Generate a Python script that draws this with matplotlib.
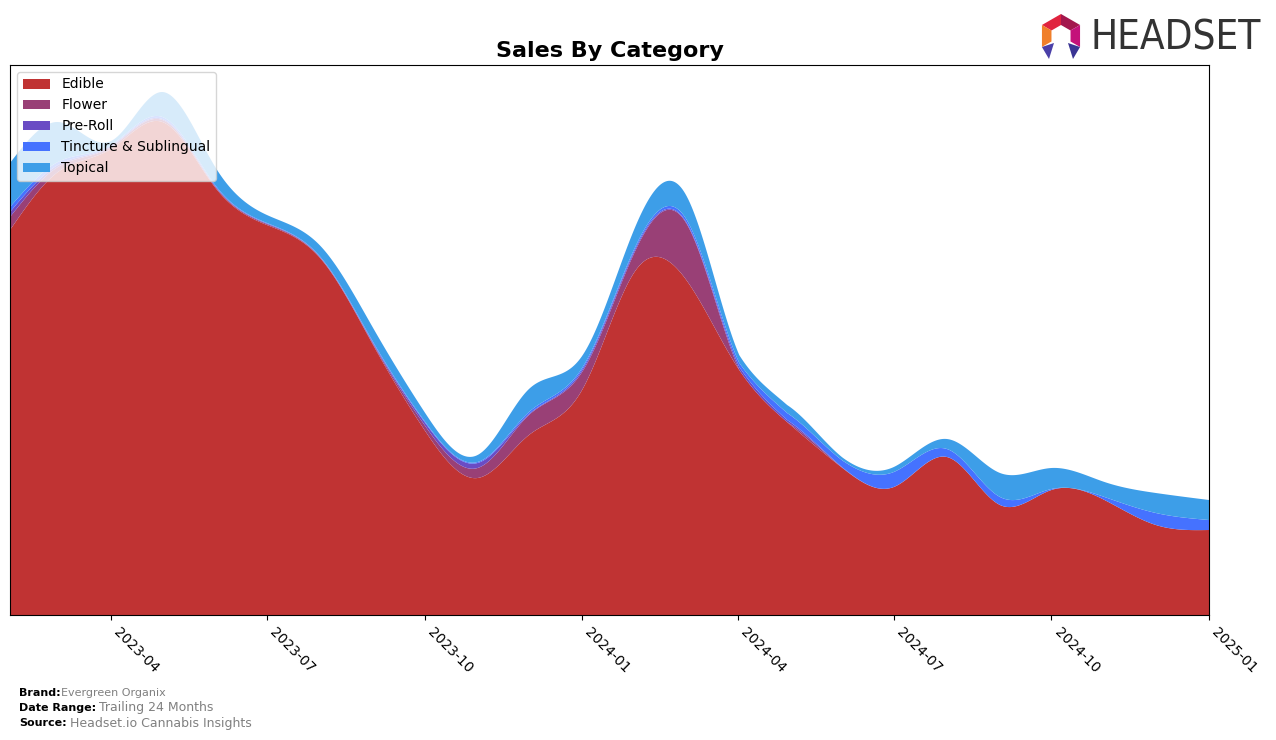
import numpy as np
import pandas as pd
import matplotlib
matplotlib.use('Agg')
import matplotlib.pyplot as plt
import matplotlib.dates as mdates
from matplotlib.patches import Polygon

# miesiace (pierwszy dzien miesiaca)
months = pd.date_range('2023-02-01', '2025-01-01', freq='MS')

categories = ['Edible', 'Flower', 'Pre-Roll', 'Tincture & Sublingual', 'Topical']
colors = ['#c03333', '#994076', '#6a4cc4', '#4572ff', '#3d9ee8']

edible = [385, 443, 466, 493, 427, 390, 357, 270, 185, 137, 180, 225,
          344, 337, 247, 191, 147, 128, 158, 110, 125, 115, 90, 85]
flower = [13, 5, 2, 2, 1, 1, 0.5, 1, 5, 10, 20, 18,
          20, 57, 1, 0.5, 0, 0, 0, 0, 0, 0, 0, 0]
preroll = [5, 2, 1, 1, 0.5, 0.5, 0.5, 1, 3, 5, 1, 2,
           2, 1, 3, 2, 0.5, 0, 0, 0, 0, 0, 0, 0]
tincture = [5, 3, 1, 2, 1, 0.5, 0.5, 1, 1, 1, 2, 2,
            2, 3, 4, 7, 7, 15, 8, 8, 1, 3, 12, 10]
topical = [44, 40, 4, 25, 18, 8, 11, 14, 9, 7, 23, 12,
           20, 24, 8, 8, 3, 5, 10, 24, 21, 15, 20, 20]

series = [edible, flower, preroll, tincture, topical]


def natural_spline(x, y, xs):
    # naturalny spline kubiczny (tylko do wygladzenia rysunku)
    x = np.asarray(x, float)
    y = np.asarray(y, float)
    n = len(x)
    h = np.diff(x)
    A = np.zeros((n, n))
    b = np.zeros(n)
    A[0, 0] = 1
    A[-1, -1] = 1
    for i in range(1, n - 1):
        A[i, i - 1] = h[i - 1]
        A[i, i] = 2 * (h[i - 1] + h[i])
        A[i, i + 1] = h[i]
        b[i] = 3 * ((y[i + 1] - y[i]) / h[i] - (y[i] - y[i - 1]) / h[i - 1])
    c = np.linalg.solve(A, b)
    bb = (y[1:] - y[:-1]) / h - h * (2 * c[:-1] + c[1:]) / 3
    d = (c[1:] - c[:-1]) / (3 * h)
    idx = np.clip(np.searchsorted(x, xs) - 1, 0, n - 2)
    dx = xs - x[idx]
    return y[idx] + bb[idx] * dx + c[idx] * dx ** 2 + d[idx] * dx ** 3


xnum = mdates.date2num(months)
xs = np.linspace(xnum[0], xnum[-1], 800)
smooth = [np.clip(natural_spline(xnum, s, xs), 0, None) for s in series]

fig = plt.figure(figsize=(12.76, 7.4), dpi=100)
ax = fig.add_axes([10 / 1276, 1 - 615 / 740, 1199 / 1276, 550 / 740])

ax.stackplot(mdates.num2date(xs), *smooth, labels=categories, colors=colors, linewidth=0)

ax.set_xlim(xnum[0], xnum[-1])
ax.set_ylim(0, 550)
ax.set_yticks([])
ax.xaxis.set_major_locator(mdates.MonthLocator(bymonth=[1, 4, 7, 10]))
ax.xaxis.set_major_formatter(mdates.DateFormatter('%Y-%m'))
plt.setp(ax.get_xticklabels(), rotation=-45, ha='left', fontsize=10)

ax.set_title('Sales By Category', fontsize=16, fontweight='bold', pad=6)
ax.legend(loc='upper left', fontsize=10)

# stopka
fig.text(19 / 1276, 1 - 693 / 740, 'Brand:', fontsize=8, fontweight='bold', va='center')
fig.text(61 / 1276, 1 - 693 / 740, 'Evergreen Organix', fontsize=8, color='gray', va='center')
fig.text(19 / 1276, 1 - 708 / 740, 'Date Range:', fontsize=8, fontweight='bold', va='center')
fig.text(99 / 1276, 1 - 708 / 740, 'Trailing 24 Months', fontsize=9, color='gray', va='center')
fig.text(19 / 1276, 1 - 723 / 740, 'Source:', fontsize=8, fontweight='bold', va='center')
fig.text(70 / 1276, 1 - 723 / 740, 'Headset.io Cannabis Insights', fontsize=9, color='gray', va='center')

# logo HEADSET
fig.text(1261 / 1276, 1 - 38 / 740, 'HEADSET', fontsize=29, color='#333333', va='center', ha='right',
         family='DejaVu Sans', fontstretch='condensed')


def px(pts):
    return [(x / 1276, 1 - y / 740) for x, y in pts]


cx, cy = 1061, 36
ro, ri = 22, 11
ang = np.radians([90, 30, -30, -90, -150, 150])
outer = [(cx + ro * np.cos(a), cy - ro * np.sin(a)) for a in ang]
inner = [(cx + ri * np.cos(a), cy - ri * np.sin(a)) for a in ang]
segs = [(5, 0, '#e0233f'), (0, 1, '#a3174d'), (1, 2, '#c4127a'), (4, 5, '#f07f2a')]
for i, j, col in segs:
    fig.patches.append(Polygon(px([outer[i], outer[j], inner[j], inner[i]]), closed=True,
                               facecolor=col, edgecolor='none', transform=fig.transFigure))
fig.patches.append(Polygon(px([outer[4], (cx - 7, cy + 7), (cx - 12, cy + 23)]), closed=True,
                           facecolor='#4a3fa8', edgecolor='none', transform=fig.transFigure))
fig.patches.append(Polygon(px([outer[2], (cx + 7, cy + 7), (cx + 12, cy + 23)]), closed=True,
                           facecolor='#3a3594', edgecolor='none', transform=fig.transFigure))

fig.savefig('out.png', dpi=100)
